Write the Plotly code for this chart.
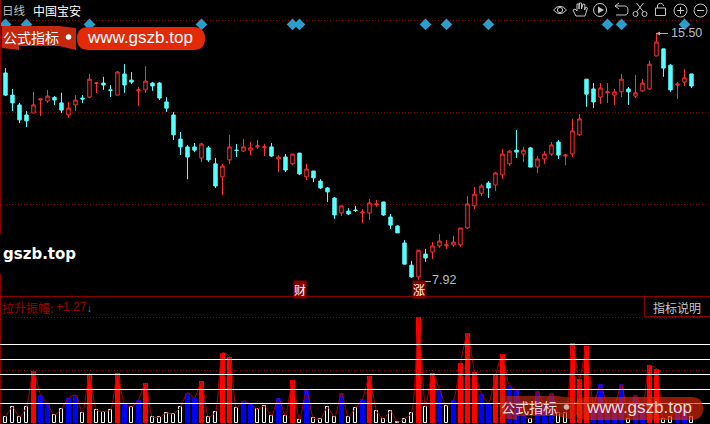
import re
import plotly.graph_objects as go

# ---- data ----
opens = [14.27,13.59,13.29,12.98,13.04,13.44,13.41,13.52,13.35,12.98,13.29,13.50,13.53,13.95,13.96,13.75,13.59,14.24,14.05,13.72,13.75,13.96,13.96,13.38,12.98,12.24,12.00,12.00,11.66,11.97,11.48,11.08,11.60,11.90,11.87,11.90,12.00,11.97,12.00,11.63,11.69,11.48,11.81,11.08,11.26,10.95,10.74,10.43,9.97,10.03,10.06,9.97,9.97,10.22,10.31,9.85,9.57,9.05,8.37,8.01,8.71,8.77,8.96,8.96,8.99,8.99,9.51,10.19,10.58,10.89,10.83,11.14,11.48,11.90,11.78,11.97,11.38,11.63,11.78,12.15,11.72,11.78,12.37,14.08,13.78,13.53,13.66,13.59,13.69,13.78,13.56,13.72,13.78,14.79,15.01,14.51,13.90,13.99,14.24]
highs = [14.42,13.78,13.35,13.10,13.69,13.47,13.75,13.56,13.66,13.38,13.59,13.59,14.24,13.99,14.15,13.90,14.33,14.54,14.30,13.84,14.48,13.99,13.99,13.53,13.07,12.46,12.06,12.12,12.12,12.03,11.66,11.48,12.37,12.09,12.24,12.15,12.21,12.09,12.12,11.75,11.78,11.78,11.81,11.48,11.26,11.01,10.77,10.46,10.19,10.12,10.19,10.09,10.40,10.37,10.31,9.94,9.60,9.14,8.50,8.83,8.87,9.08,9.33,9.14,9.27,9.51,10.49,10.77,10.86,10.95,11.23,11.94,11.90,12.52,12.00,12.00,11.72,11.87,12.15,12.21,11.78,12.86,13.01,14.08,13.96,13.96,13.96,13.78,14.24,13.84,14.21,14.08,14.64,15.50,15.01,14.54,13.99,14.39,14.24]
lows = [13.56,13.10,12.73,12.61,13.04,12.95,13.35,13.29,13.04,12.89,13.10,13.35,13.50,13.66,13.75,13.53,13.59,13.66,13.93,13.26,13.66,13.72,13.44,13.07,12.21,11.75,11.01,11.84,11.54,11.54,10.74,10.52,11.48,11.69,11.84,11.75,11.94,11.72,11.69,11.23,11.23,11.44,11.14,10.98,10.92,10.71,10.31,9.79,9.88,9.91,10.00,9.66,9.76,10.16,9.88,9.48,9.36,8.40,7.98,7.92,8.47,8.56,8.90,8.87,8.93,8.93,9.48,10.09,10.49,10.43,10.65,11.01,11.41,11.66,11.54,11.38,11.20,11.48,11.72,11.63,11.44,11.69,12.34,13.23,13.19,13.32,13.35,13.29,13.53,13.29,13.50,13.69,13.75,14.79,14.15,13.69,13.47,13.87,13.81]
closes = [13.59,13.35,12.83,12.80,13.29,13.47,13.56,13.44,13.13,13.19,13.44,13.47,14.08,13.96,13.90,13.74,14.30,13.90,13.99,13.75,14.02,13.87,13.50,13.19,12.37,12.00,11.69,11.90,12.09,11.60,10.80,11.41,12.00,11.89,12.00,11.97,12.03,12.00,11.72,11.69,11.29,11.78,11.17,11.32,11.05,10.74,10.62,9.91,10.19,9.94,10.05,10.00,10.28,10.25,9.91,9.60,9.36,8.40,8.01,8.83,8.59,8.96,9.11,8.99,9.08,9.51,10.25,10.55,10.80,10.74,11.20,11.78,11.87,11.84,11.90,11.38,11.63,11.78,12.06,11.75,11.75,12.49,12.86,13.62,13.38,13.81,13.69,13.69,14.08,13.69,13.66,13.96,14.54,15.22,14.42,13.75,13.93,14.12,13.87]

amplitude = [1.2,3.2,1.2,3.2,10.5,5.7,3.8,1.6,2.8,5.0,5.6,2.0,9.9,2.6,2.3,2.6,10.1,3.8,3.2,4.6,8.1,1.2,1.2,2.0,1.8,3.2,6.1,5.0,8.4,1.2,2.2,14.1,13.3,3.0,4.4,3.8,2.8,3.4,1.4,5.0,1.4,8.6,0.6,6.6,1.0,0.8,3.2,1.2,6.0,1.2,3.0,4.8,9.4,2.4,0.8,2.4,0.2,0.8,2.0,21.2,3.2,10.0,6.8,3.4,4.6,12.0,18.0,10.2,5.8,4.0,9.6,13.8,7.4,6.6,1.6,0.8,6.4,3.6,6.0,2.0,2.0,16.0,8.8,15.4,3.6,7.8,3.6,3.6,7.8,0.8,5.6,3.0,11.6,10.8,0.8,1.2,3.0,2.6,1.27]
bar_kind = list("WWWWRBBWWBBWRWWWRBWBRWWWWWBBRWWRRWBBWWWBWRWBWWWWBWWBRWWWWWWRWRBWBRRRBBRRBBBWBBBWWRRRBBBBBWBBRRWWBBW")
red_lower = {4:7.8,12:7.0,16:7.4,20:6.8,28:6.8,31:9.8,32:11.0,41:6.0,52:7.7,59:14.2,61:7.4,65:9.2,66:15.6,67:9.0,70:7.6,71:12.4,81:11.4,82:8.8,83:12.0,92:9.6,93:9.0}
signal_days = [0,3,12,28,41,42,60,63,69,86,88,97]
level_values = [3.9,6.7,9.7,12.7,15.7]
grid_prices = [15.88,13.06,10.23]
x = list(range(len(opens)))

RED, CYAN = "#FF3232", "#54FFFF"
DARK = "#8A0000"
W, H = 710, 424
px = lambda v: v / W
py = lambda v: 1 - v / H

def path(d):
    def rep(m):
        return f"{px(float(m.group(1))):.5f},{py(float(m.group(2))):.5f}"
    return re.sub(r"(-?[\d.]+),(-?[\d.]+)", rep, d)

shapes = []
def sline(x0, y0, x1, y1, color, width=1, dash=None, layer="above", opacity=1):
    shapes.append(dict(type="line", xref="paper", yref="paper", x0=px(x0), x1=px(x1), y0=py(y0), y1=py(y1),
                       line=dict(color=color, width=width, dash=dash), layer=layer, opacity=opacity))
def spath(d, fill=None, line=None, width=1, opacity=1):
    shapes.append(dict(type="path", xref="paper", yref="paper", path=path(d), fillcolor=fill or "rgba(0,0,0,0)",
                       line=dict(color=line or "rgba(0,0,0,0)", width=width if line else 0), layer="above", opacity=opacity))
def scircle(cx, cy, r, fill=None, line=None, width=1, opacity=1):
    shapes.append(dict(type="circle", xref="paper", yref="paper", x0=px(cx-r), x1=px(cx+r), y0=py(cy-r), y1=py(cy+r),
                       fillcolor=fill or "rgba(0,0,0,0)", line=dict(color=line or "rgba(0,0,0,0)", width=width if line else 0),
                       layer="above", opacity=opacity))

fig = go.Figure()
fig.add_trace(go.Candlestick(x=x, open=opens, high=highs, low=lows, close=closes, whiskerwidth=0,
    increasing=dict(line=dict(color=RED, width=1), fillcolor="#000000"),
    decreasing=dict(line=dict(color=CYAN, width=1), fillcolor=CYAN), xaxis="x", yaxis="y", hoverinfo="skip"))
fig.add_trace(go.Scatter(x=signal_days, y=[15.76]*len(signal_days), mode="markers", cliponaxis=False,
    marker=dict(symbol="diamond", size=9, color="#2C9CCB"), hoverinfo="skip"))

def pick(k):
    return [i for i in x if bar_kind[i] == k]
wi, bi, ri = pick("W"), pick("B"), pick("R")
fig.add_trace(go.Bar(x=wi, y=[amplitude[i] for i in wi], width=0.5, yaxis="y2",
    marker=dict(color="#000000", line=dict(color="#FFFFFF", width=1)), hoverinfo="skip"))
fig.add_trace(go.Bar(x=bi, y=[amplitude[i] for i in bi], width=0.6, yaxis="y2",
    marker=dict(color="#0000FF", line=dict(width=0)), hoverinfo="skip"))
fig.add_trace(go.Bar(x=ri, y=[amplitude[i] for i in ri], width=0.6, yaxis="y2",
    marker=dict(color="#FF0000", line=dict(width=0)), hoverinfo="skip"))
lo = sorted(red_lower)
fig.add_trace(go.Bar(x=lo, y=[red_lower[i] for i in lo], width=0.72, yaxis="y2",
    marker=dict(color="#FF0000", line=dict(width=0)), hoverinfo="skip"))
fig.add_trace(go.Scatter(x=x, y=amplitude, mode="lines", yaxis="y2",
    line=dict(color="#B00000", width=1, shape="spline", smoothing=0.6), hoverinfo="skip"))

# frame and grid
sline(0.5, 0, 0.5, 234, DARK); sline(0.5, 274, 0.5, 424, DARK)
sline(0, 296.5, 710, 296.5, DARK)
sline(644.5, 296, 644.5, 316.5, DARK); sline(644, 316.5, 710, 316.5, DARK)
for g in grid_prices:
    shapes.append(dict(type="line", xref="paper", yref="y", x0=px(3), x1=1, y0=g, y1=g,
                       line=dict(color=DARK, width=1, dash="1px,2px"), layer="below"))
for yp in (317.5, 370.5):
    sline(3, yp, 710, yp, DARK, dash="1px,2px", layer="below")
for v in level_values:
    shapes.append(dict(type="line", xref="paper", yref="y2", x0=0, x1=1, y0=v, y1=v,
                       line=dict(color="#FFFFFF", width=1), layer="above"))

# leaders for the high / low labels
sline(656, 33.5, 668, 33.5, "#AAAAAA"); spath("M656,33.5 L660,31.5 L660,35.5 Z", fill="#AAAAAA")
sline(418, 281.5, 431, 281.5, "#AAAAAA")

# toolbar
ic = "#C4C4C4"
spath("M553.5,10 Q560,2.5 566.5,10 Q560,17.5 553.5,10 Z", line=ic); scircle(560, 10, 2.6, line=ic)
spath("M576,16 L573,10 L575,9 L577,11 L577,4 L579,4 L579,9 L579.5,3 L581.5,3 L581.5,9 L583,4 L585,4.5 L584.5,10 L586,7 L587.5,8 L585,16 Z", line=ic)
scircle(600, 10, 6.5, line=ic); spath("M598,6.5 L604,10 L598,13.5 Z", fill=ic)
spath("M615,6 L619,3 M615,6 L619,9 M615,6 L625,6 Q628,6 628,11 Q628,15 625,15 L616,15", line=ic)
sline(636.5, 3, 643.5, 12, ic); sline(643.5, 3, 636.5, 12, ic); scircle(635.5, 14, 2.5, line=ic); scircle(644.5, 14, 2.5, line=ic)
shapes.append(dict(type="rect", xref="paper", yref="paper", x0=px(655.5), x1=px(665.5), y0=py(15.5), y1=py(8), line=dict(color=ic, width=1), layer="above"))
spath("M657.5,8 L657.5,5 Q660.5,1.5 663.5,5 L663.5,6", line=ic)
scircle(680.5, 10.5, 6.5, line=ic); sline(677, 10.5, 684, 10.5, ic); sline(680.5, 7, 680.5, 14, ic)
scircle(700.5, 10.5, 6.5, line=ic); sline(697, 10.5, 704, 10.5, ic)

# watermarks
def watermark(dx, dy, op):
    spath(f"M{2+dx},{26+dy} L{59+dx},{26+dy} L{76+dx},{28+dy} L{76+dx},{50+dy} L{59+dx},{46+dy} L{19+dx},{46+dy} L{19+dx},{50+dy} L{2+dx},{48+dy} Z", fill="#C4280E", opacity=op)
    spath(f"M{89+dx},{27+dy} L{193+dx},{27+dy} Q{205+dx},{27+dy} {205+dx},{38.5+dy} Q{205+dx},{50+dy} {193+dx},{50+dy} L{89+dx},{50+dy} Q{77+dx},{50+dy} {77+dx},{38.5+dy} Q{77+dx},{27+dy} {89+dx},{27+dy} Z", fill="#E22A08", opacity=op)
    scircle(68.5+dx, 37+dy, 2.8, fill="#FFFFFF", opacity=op)
watermark(0, 0, 1)
watermark(498, 370, 0.65)

ann = []
def text(s, xp, yp, size, color, anchor="left", font="Noto Sans CJK SC", **kw):
    ann.append(dict(text=s, xref="paper", yref="paper", x=px(xp), y=py(yp), xanchor=anchor, yanchor="middle",
                    showarrow=False, font=dict(family=font, size=size, color=color), borderpad=0, **kw))
LS = "Liberation Sans"
text("日线", 0.5, 10, 11.5, "#C0C0C0")
text("中国宝安", 32, 10, 12, "#FFFFFF")
text("公式指标", 2, 37, 14, "#FFFFFF")
text("www.gszb.top", 86, 37.5, 17, "#FFFFFF", font=LS)
text("公式指标", 500, 407, 14, "#F4D8D4")
text("www.gszb.top", 585, 407.5, 17, "#F4D8D4", font=LS)
text("<b>gszb.top</b>", 2, 254, 15, "#FFFFFF", font="DejaVu Sans")
text("拉升振幅:", 1, 307, 12, "#A00000")
text("+1.27", 55, 307, 12, "#A00000", font=LS)
text("↓", 85.5, 308, 10, "#2CA8D8", font=LS)
text("指标说明", 651.5, 307, 12, "#C8C8C8")
ann.append(dict(text="15.50", x=93, y=15.50, xref="x", yref="y", xshift=12, xanchor="left", yanchor="middle", showarrow=False,
                font=dict(family=LS, size=12.5, color="#B4BEC8")))
ann.append(dict(text="7.92", x=59, y=7.92, xref="x", yref="y", xshift=11, xanchor="left", yanchor="middle", showarrow=False,
                font=dict(family=LS, size=12.5, color="#B4BEC8")))
for lab, idx in (("财", 42), ("涨", 59)):
    ann.append(dict(text=lab, x=idx, y=py(289), xref="x", yref="paper", showarrow=False, xanchor="center", yanchor="middle",
                    font=dict(family="Noto Sans CJK SC", size=12, color="#FFFFFF"), bgcolor="#8A0000", borderpad=0))

fig.update_layout(width=W, height=H, margin=dict(l=0, r=0, t=0, b=0), paper_bgcolor="#000000", plot_bgcolor="#000000",
    showlegend=False, barmode="overlay", bargap=0, shapes=shapes, annotations=ann, dragmode=False,
    xaxis=dict(range=[-0.7857, 100.643], visible=False, rangeslider=dict(visible=False), fixedrange=True),
    yaxis=dict(range=[3.4932, 16.51], visible=False, fixedrange=True),
    yaxis2=dict(range=[-0.2, 84.6], overlaying="y", visible=False, fixedrange=True))
fig.write_html("out.html", config=dict(displayModeBar=False),
    post_script="document.body.style.margin='0';document.body.style.background='#000';")
